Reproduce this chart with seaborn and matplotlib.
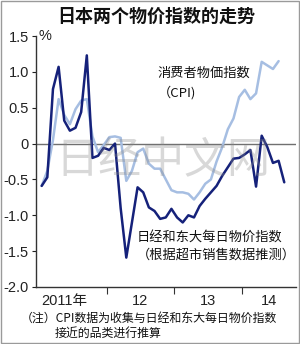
import matplotlib
matplotlib.use("Agg")
import matplotlib.pyplot as plt
import seaborn as sns
import pandas as pd
import numpy as np
from matplotlib.patches import Rectangle

# ---- data (monthly, Jan 2011 onward) ----
months = pd.date_range("2011-01-01", periods=44, freq="MS")
nikkei = [-0.59, -0.47, 0.76, 1.07, 0.32, 0.18, 0.22, 0.44, 1.23, -0.20,
          -0.17, -0.06, -0.09, 0.00, -0.90, -1.59, -1.10, -0.61, -0.68, -0.89,
          -0.94, -1.05, -1.03, -0.91, -1.03, -1.10, -1.00, -1.03, -0.87, -0.77,
          -0.68, -0.59, -0.45, -0.33, -0.21, -0.20, -0.15, -0.09, -0.60, 0.11,
          -0.05, -0.27, -0.24, -0.54]
cpi = [-0.59, -0.38, 0.05, 0.62, 0.40, 0.27, 0.48, 0.60, 0.62, 0.10,
       -0.12, -0.02, 0.09, 0.10, 0.08, -0.52, -0.38, -0.12, -0.07, -0.28,
       -0.35, -0.35, -0.50, -0.65, -0.68, -0.68, -0.70, -0.78, -0.68, -0.56,
       -0.50, -0.25, -0.05, 0.20, 0.35, 0.65, 0.75, 0.62, 0.70, 1.14,
       1.09, 1.04, 1.15]
year_labels = ["2011年", "12", "13", "14"]
yticks = [1.5, 1.0, 0.5, 0, -0.5, -1.0, -1.5, -2.0]
ytick_labels = ["1.5", "1.0", "0.5", "0", "-0.5", "-1.0", "-1.5", "-2.0"]

title = "日本两个物价指数的走势"
cpi_label = "消费者物価指数\n（CPI)"
nikkei_label = "日经和东大每日物价指数\n（根据超市销售数据推测）"
note_line1 = "（注）CPI数据为收集与日经和东大每日物价指数"
note_line2 = "接近的品类进行推算"
watermark = "日经中文网"

NAVY = "#15217a"
LIGHT = "#a6bee2"

sns.set_theme(style="white")
plt.rcParams["font.family"] = ["Liberation Sans", "Noto Sans CJK SC", "DejaVu Sans"]

df_n = pd.DataFrame({"i": np.arange(len(nikkei)), "v": nikkei})
df_c = pd.DataFrame({"i": np.arange(len(cpi)), "v": cpi})

fig = plt.figure(figsize=(3.0, 3.44), dpi=100)
ax = fig.add_axes([0.119, 0.1657, 0.868, 0.7296])

ax.axhline(0, color="#707070", lw=1.0, zorder=1)
sns.lineplot(data=df_c, x="i", y="v", ax=ax, color=LIGHT, lw=1.8, zorder=2)
sns.lineplot(data=df_n, x="i", y="v", ax=ax, color=NAVY, lw=1.8, zorder=3)

ax.set_xlim(-1.06, 45.1)
ax.set_ylim(-2.0, 1.5)
ax.set_xlabel("")
ax.set_ylabel("")

for s in ["top", "right"]:
    ax.spines[s].set_visible(False)
for s in ["left", "bottom"]:
    ax.spines[s].set_color("#333333")
    ax.spines[s].set_linewidth(1.0)

ax.set_yticks(yticks)
ax.set_yticklabels(ytick_labels, fontsize=10.5)
ax.tick_params(axis="y", direction="out", length=3, width=0.8, pad=2, colors="#222222",
               left=True)

# x: year boundaries as major ticks, labels centred in visible year span
bounds = [11.5, 23.5, 35.5]
ax.set_xticks(bounds)
ax.set_xticklabels([""] * len(bounds))
ax.tick_params(axis="x", which="major", direction="out", length=5, width=0.8,
               bottom=True, color="#333333")
xl = ax.get_xlim()
edges = [xl[0]] + bounds + [xl[1]]
centers = [(edges[k] + edges[k + 1]) / 2 for k in range(len(year_labels))]
centers[0] -= 1.2
ax.set_xticks(centers, minor=True)
ax.set_xticklabels(year_labels, minor=True, fontsize=10.5)
ax.tick_params(axis="x", which="minor", length=0, pad=5, colors="#222222")

# % unit
ax.text(0.01, 1.5, "%", transform=ax.get_yaxis_transform(), fontsize=10.5,
        va="center", ha="left", color="#222222")

# labels
ax.text(20.6, 0.84, cpi_label, fontsize=9.5, va="center", ha="left",
        color="#111111", linespacing=1.5,
        family=["Noto Sans CJK JP", "Liberation Sans"])
ax.text(16.9, -1.44, nikkei_label, fontsize=9.5, va="center", ha="left",
        color="#111111", linespacing=1.45,
        family=["Noto Sans CJK SC", "Liberation Sans"])

# watermark
ax.text(0.49, 0.5, watermark, transform=ax.transAxes, fontsize=31,
        color="#8a8a8a", alpha=0.33, ha="center", va="center", zorder=4,
        family=["Noto Sans CJK SC"])

fig.text(0.52, 0.953, title, fontsize=13, fontweight="bold", ha="center",
         va="center", color="#111111", family=["Noto Sans CJK SC"])
fig.text(0.068, 1 - 318 / 344, note_line1, fontsize=8.6, ha="left", va="center",
         color="#111111", family=["Noto Sans CJK SC", "Liberation Sans"])
fig.text(0.183, 1 - 333 / 344, note_line2, fontsize=8.6, ha="left", va="center",
         color="#111111", family=["Noto Sans CJK SC", "Liberation Sans"])

fig.patches.append(Rectangle((0.002, 0.002), 0.995, 0.995, transform=fig.transFigure,
                             fill=False, edgecolor="#9a9a9a", lw=1.0))

fig.savefig("out.png", dpi=100)
